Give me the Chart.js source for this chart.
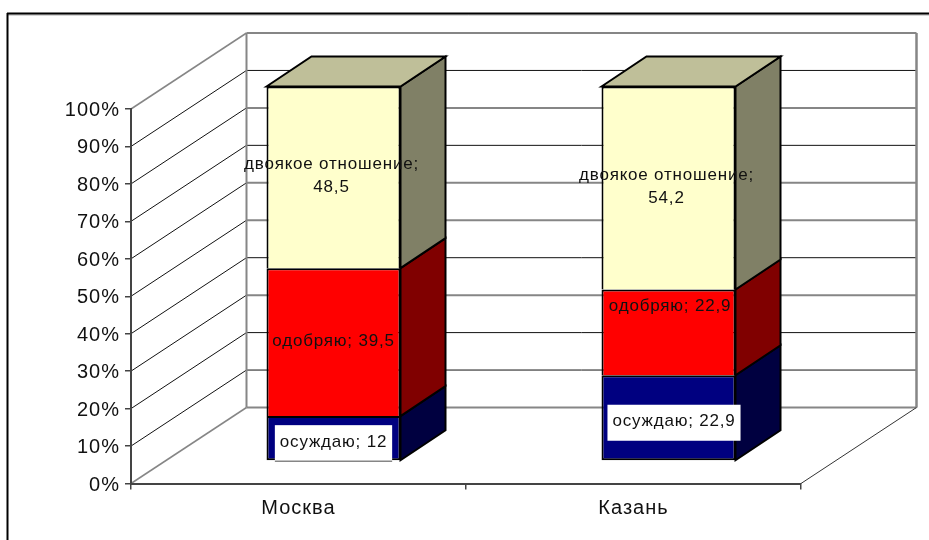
<!DOCTYPE html>
<html>
<head>
<meta charset="utf-8">
<style>
  html, body { margin: 0; padding: 0; background: #fff; }
  canvas { display: block; }
</style>
<script src="https://cdn.jsdelivr.net/npm/chart.js@4"></script>
</head>
<body>
<canvas id="chart" width="929" height="540"></canvas>
<script>
const cities = ['Москва', 'Казань'];
const condemn = [12, 22.9];
const approve = [39.5, 22.9];
const mixed = [48.5, 54.2];

// look of the fake 3d box
const wallDepth = { x: 115.5, y: -76 };
const barShift = { x: 35, y: -22.5 };
const barDepth = { x: 45, y: -30 };
const FONT = '"Liberation Sans", Arial, sans-serif';
const GRAY = '#868686';

// the back wall lines came out uneven in the original, 0% to 100%
const wallLineDark = [false, true, true, false, true, false, false, true, false, true, false];

// label nudges from the centre of each segment
const labelNudge = [
    [[0, 5], [5.5, 5]],
    [[0, 0], [1.5, -25]],
    [[-2, -1.5], [-2, -1.5]]
];

function line(ctx, x1, y1, x2, y2, color, width) {
    ctx.beginPath();
    ctx.moveTo(x1, y1);
    ctx.lineTo(x2, y2);
    ctx.strokeStyle = color;
    ctx.lineWidth = width;
    ctx.stroke();
}

function poly(ctx, pts, fill) {
    ctx.beginPath();
    pts.forEach((p, i) => i ? ctx.lineTo(p[0], p[1]) : ctx.moveTo(p[0], p[1]));
    ctx.closePath();
    ctx.fillStyle = fill;
    ctx.fill();
    ctx.strokeStyle = '#000';
    ctx.lineWidth = 2;
    ctx.lineJoin = 'miter';
    ctx.stroke();
}

const box3d = {
    id: 'box3d',
    beforeDraw(chart) {
        const ctx = chart.ctx;
        const yScale = chart.scales.y;
        const a = chart.chartArea;
        const bx = a.left + wallDepth.x;
        const bxr = a.right + wallDepth.x;

        ctx.save();
        // page frame, open to the right and the bottom
        line(ctx, 8, 15, 929, 15, '#aaa', 1);
        line(ctx, 7, 13.5, 929, 13.5, '#000', 2);
        line(ctx, 7.5, 13, 7.5, 540, '#000', 2);

        yScale.ticks.forEach((t, i) => {
            const y = yScale.getPixelForValue(t.value);
            const by = y + wallDepth.y;
            const dark = wallLineDark[i];
            const edge = t.value === 0 || t.value === 100;
            line(ctx, a.left, y, bx, by, edge ? GRAY : '#111', edge ? 1.5 : 1);
            line(ctx, bx, by, bxr, by, dark ? '#111' : GRAY, dark ? 1 : 2);
        });
        line(ctx, bx, a.top + wallDepth.y, bx, a.bottom + wallDepth.y, GRAY, 2);
        line(ctx, bxr, a.top + wallDepth.y, bxr, a.bottom + wallDepth.y, GRAY, 2.5);
        line(ctx, a.right, a.bottom, bxr, a.bottom + wallDepth.y, '#333', 1);
        ctx.restore();

        ctx.letterSpacing = '1px';
    },
    beforeDatasetsDraw(chart) {
        chart.ctx.save();
        chart.ctx.translate(barShift.x, barShift.y);
    },
    afterDatasetsDraw(chart) {
        const ctx = chart.ctx;
        const dx = barDepth.x;
        const dy = barDepth.y;

        chart.data.datasets.forEach((ds, d) => {
            chart.getDatasetMeta(d).data.forEach(bar => {
                const p = bar.getProps(['x', 'y', 'base', 'width'], true);
                const r = p.x + p.width / 2;
                const l = p.x - p.width / 2;
                poly(ctx, [[r, p.base], [r + dx, p.base + dy], [r + dx, p.y + dy], [r, p.y]], ds.sideColor);
                if (d === chart.data.datasets.length - 1) {
                    poly(ctx, [[l, p.y], [l + dx, p.y + dy], [r + dx, p.y + dy], [r, p.y]], ds.topColor);
                }
            });
        });

        ctx.font = '17px ' + FONT;
        ctx.letterSpacing = '0.8px';
        ctx.textAlign = 'center';
        ctx.textBaseline = 'middle';
        chart.data.datasets.forEach((ds, d) => {
            chart.getDatasetMeta(d).data.forEach((bar, i) => {
                const p = bar.getProps(['x', 'y', 'base'], true);
                const cx = p.x + labelNudge[d][i][0];
                const cy = (p.y + p.base) / 2 + labelNudge[d][i][1];
                const val = String(ds.data[i]).replace('.', ',');
                if (ds.wrapLabel) {
                    ctx.fillStyle = '#111';
                    ctx.fillText(ds.label + ';', cx, cy - 11.5);
                    ctx.fillText(val, cx, cy + 11.5);
                    return;
                }
                const text = ds.label + '; ' + val;
                if (ds.labelBox) {
                    const w = ctx.measureText(text).width + 10;
                    ctx.fillStyle = '#fff';
                    ctx.fillRect(cx - w / 2, cy - 18, w, 36);
                    // box sitting on the bar foot leaves a gray edge
                    if (cy + 18 >= p.base - 1) {
                        line(ctx, cx - w / 2, cy + 18, cx + w / 2, cy + 18, GRAY, 1.5);
                    }
                }
                ctx.fillStyle = '#111';
                ctx.fillText(text, cx, cy - 1);
            });
        });
        ctx.restore();
    }
};

new Chart(document.getElementById('chart'), {
    type: 'bar',
    data: {
        labels: cities,
        datasets: [
            { label: 'осуждаю', data: condemn, backgroundColor: '#000080', sideColor: '#000040', topColor: '#000060', labelBox: true, borderSkipped: false },
            { label: 'одобряю', data: approve, backgroundColor: '#ff0000', sideColor: '#800000', topColor: '#bf0000', borderSkipped: 'start' },
            { label: 'двоякое отношение', data: mixed, backgroundColor: '#ffffcc', sideColor: '#808066', topColor: '#bfbf99', wrapLabel: true, borderSkipped: 'start' }
        ]
    },
    options: {
        responsive: false,
        animation: false,
        events: [],
        layout: { padding: { left: 0, top: 109, right: 128, bottom: 0 } },
        datasets: {
            bar: {
                clip: false,
                borderColor: '#000',
                borderWidth: 2,
                categoryPercentage: 1,
                barPercentage: 0.4
            }
        },
        plugins: { legend: { display: false }, tooltip: { enabled: false } },
        scales: {
            x: {
                stacked: true,
                afterFit(s) { s.height = 56.5; },
                border: { color: '#444', width: 2 },
                grid: { offset: true, drawOnChartArea: false, color: '#444', tickLength: 6, lineWidth: 1.5 },
                ticks: { color: '#111', font: { family: FONT, size: 20 }, padding: 7 }
            },
            y: {
                stacked: true,
                min: 0,
                max: 100,
                afterFit(s) { s.width = 131; },
                border: { color: '#444', width: 2 },
                grid: { drawOnChartArea: false, color: '#444', tickLength: 6, lineWidth: 1.5 },
                ticks: {
                    stepSize: 10,
                    color: '#111',
                    font: { family: FONT, size: 20 },
                    padding: 5,
                    labelOffset: 1.5,
                    callback: v => v + '%'
                }
            }
        }
    },
    plugins: [box3d]
});
</script>
</body>
</html>
